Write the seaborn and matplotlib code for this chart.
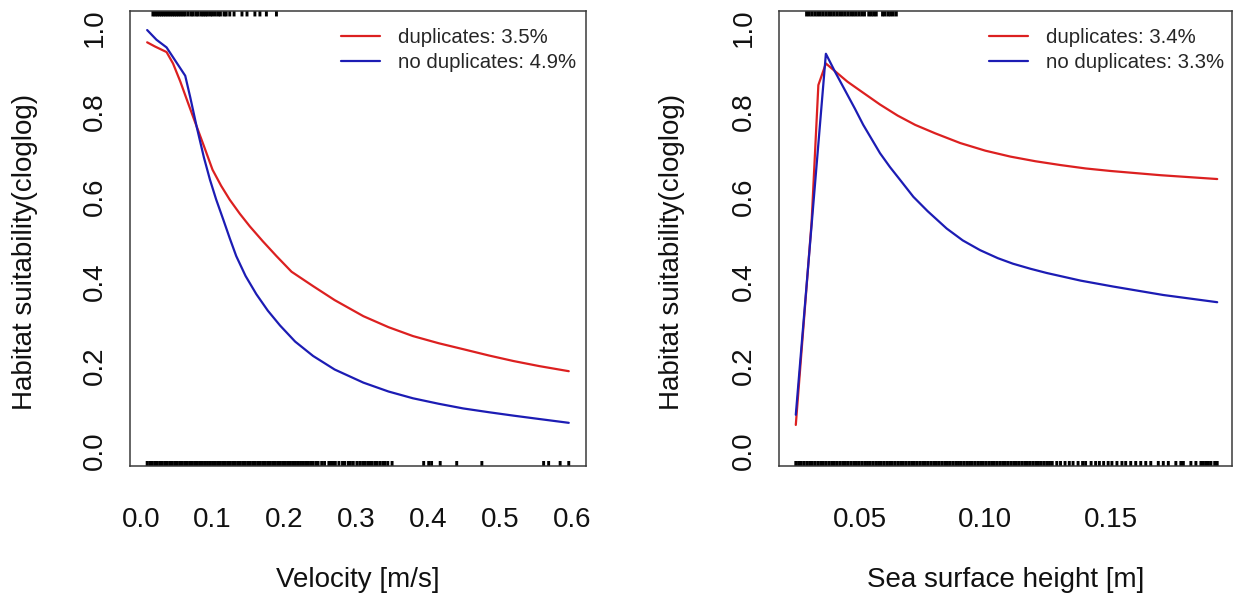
import matplotlib
matplotlib.use("Agg")
import matplotlib.pyplot as plt
import seaborn as sns
import pandas as pd

# ---- response curves: velocity ----
vel_dup_x = [0.009, 0.020, 0.036, 0.045, 0.055, 0.065, 0.076, 0.088, 0.100, 0.112,
             0.124, 0.138, 0.152, 0.170, 0.189, 0.210, 0.240, 0.270, 0.310, 0.345,
             0.379, 0.415, 0.449, 0.485, 0.519, 0.555, 0.596]
vel_dup_y = [0.965, 0.955, 0.942, 0.915, 0.873, 0.826, 0.775, 0.720, 0.664, 0.626,
             0.593, 0.560, 0.530, 0.495, 0.460, 0.423, 0.389, 0.356, 0.318, 0.292,
             0.271, 0.254, 0.240, 0.225, 0.212, 0.200, 0.188]
vel_nodup_x = [0.009, 0.022, 0.036, 0.062, 0.069, 0.078, 0.088, 0.0965, 0.105, 0.115,
               0.124, 0.133, 0.146, 0.161, 0.177, 0.194, 0.215, 0.240, 0.270, 0.310,
               0.345, 0.379, 0.415, 0.449, 0.485, 0.519, 0.555, 0.596]
vel_nodup_y = [0.994, 0.971, 0.953, 0.886, 0.835, 0.765, 0.693, 0.640, 0.594, 0.546,
               0.502, 0.460, 0.413, 0.370, 0.331, 0.296, 0.258, 0.224, 0.192, 0.161,
               0.140, 0.124, 0.111, 0.100, 0.091, 0.083, 0.075, 0.066]

# ---- response curves: sea surface height ----
ssh_dup_x = [0.0244, 0.0307, 0.0334, 0.0364, 0.040, 0.045, 0.051, 0.058, 0.065,
             0.072, 0.080, 0.090, 0.100, 0.110, 0.120, 0.130, 0.140, 0.150, 0.160,
             0.170, 0.180, 0.1925]
ssh_dup_y = [0.061, 0.540, 0.864, 0.915, 0.897, 0.872, 0.847, 0.818, 0.792,
             0.770, 0.750, 0.727, 0.709, 0.695, 0.684, 0.675, 0.667, 0.661, 0.656,
             0.651, 0.647, 0.642]
ssh_nodup_x = [0.0244, 0.0307, 0.0364, 0.040, 0.044, 0.048, 0.0513, 0.055, 0.058,
               0.062, 0.066, 0.0713, 0.077, 0.0846, 0.091, 0.0979, 0.105, 0.111,
               0.118, 0.1245, 0.138, 0.151, 0.171, 0.1925]
ssh_nodup_y = [0.085, 0.533, 0.938, 0.896, 0.852, 0.808, 0.770, 0.733, 0.703,
               0.670, 0.640, 0.600, 0.566, 0.525, 0.497, 0.474, 0.455, 0.442,
               0.430, 0.420, 0.402, 0.388, 0.368, 0.351]

# ---- occurrence (top) and background (bottom) rugs ----
vel_presence = [0.017, 0.020, 0.023, 0.026, 0.029, 0.032, 0.035, 0.038, 0.041, 0.044,
                0.047, 0.050, 0.053, 0.056, 0.059, 0.062, 0.066, 0.070, 0.073, 0.077,
                0.080, 0.084, 0.087, 0.090, 0.093, 0.097, 0.100, 0.104, 0.108, 0.111,
                0.116, 0.119, 0.124, 0.130, 0.141, 0.148, 0.159, 0.166, 0.175, 0.189]
vel_background = [0.009, 0.0125, 0.016, 0.0195, 0.023, 0.0265, 0.030, 0.0335, 0.037,
                  0.0405, 0.044, 0.0475, 0.051, 0.0545, 0.058, 0.0615, 0.065, 0.0685,
                  0.072, 0.0755, 0.079, 0.0825, 0.086, 0.0895, 0.093, 0.0965, 0.100,
                  0.1035, 0.107, 0.1105, 0.114, 0.1175, 0.121, 0.1245, 0.128, 0.1315,
                  0.135, 0.1385, 0.142, 0.1455, 0.149, 0.1525, 0.156, 0.1595, 0.163,
                  0.1665, 0.170, 0.1735, 0.177, 0.1805, 0.184, 0.1875, 0.191, 0.1945,
                  0.198, 0.2015, 0.205, 0.2085, 0.212, 0.2155, 0.219, 0.2225, 0.226,
                  0.2295, 0.233, 0.2365,
                  0.240, 0.244, 0.247, 0.252, 0.256, 0.262, 0.265, 0.268, 0.271, 0.276,
                  0.281, 0.284, 0.289, 0.292, 0.296, 0.301, 0.305, 0.309, 0.312, 0.316,
                  0.319, 0.322, 0.326, 0.329, 0.333, 0.337, 0.340, 0.344, 0.350,
                  0.394, 0.401, 0.405, 0.417, 0.440, 0.475, 0.561, 0.568, 0.584, 0.596]
ssh_presence = [0.0287, 0.0298, 0.0309, 0.0320, 0.0331, 0.0342, 0.0353, 0.0364, 0.0375,
                0.0386, 0.0397, 0.0408, 0.0419, 0.0430, 0.0441, 0.0452, 0.0463, 0.0474,
                0.0485, 0.0496, 0.0507, 0.0518, 0.0535, 0.0545, 0.0555, 0.0565, 0.0590,
                0.0600, 0.0612, 0.0622, 0.0633, 0.0645]
ssh_background = [0.0244, 0.0255, 0.0266, 0.0277, 0.0288, 0.0299, 0.0310, 0.0321, 0.0332,
                  0.0343, 0.0354, 0.0365, 0.0376, 0.0387, 0.0398, 0.0409, 0.0420, 0.0431,
                  0.0442, 0.0453, 0.0464, 0.0475, 0.0486, 0.0497, 0.0508, 0.0519, 0.0530,
                  0.0541, 0.0552, 0.0563, 0.0574, 0.0585, 0.0596, 0.0607, 0.0618, 0.0629,
                  0.0640, 0.0651, 0.0662, 0.0673, 0.0684, 0.0695, 0.0706, 0.0717, 0.0728,
                  0.0739, 0.0750, 0.0761, 0.0772, 0.0783, 0.0794, 0.0805, 0.0816, 0.0827,
                  0.0838, 0.0849, 0.0860, 0.0871, 0.0882, 0.0893, 0.0904, 0.0915, 0.0926,
                  0.0937, 0.0948, 0.0959, 0.0970, 0.0981, 0.0992, 0.1003, 0.1014, 0.1025,
                  0.1036, 0.1047, 0.1058, 0.1069, 0.1080, 0.1091, 0.1102, 0.1113, 0.1124,
                  0.1135, 0.1146, 0.1157, 0.1168, 0.1179, 0.1190, 0.1201, 0.1212, 0.1223,
                  0.1234, 0.1245, 0.1256, 0.1267,
                  0.1285, 0.1300, 0.1318, 0.1335, 0.1350, 0.1370, 0.1388, 0.1400, 0.1422,
                  0.1440, 0.1455, 0.1472, 0.1490, 0.1505,
                  0.1525, 0.1545, 0.1560, 0.1580, 0.1600, 0.1620, 0.1640, 0.1660, 0.1690,
                  0.1710, 0.1730, 0.1760, 0.1780, 0.1790, 0.1820, 0.1840, 0.1860, 0.1870,
                  0.1880, 0.1890, 0.1900, 0.1915, 0.1925]

label_dup = ["duplicates: 3.5%", "duplicates: 3.4%"]
label_nodup = ["no duplicates: 4.9%", "no duplicates: 3.3%"]
x_titles = ["Velocity [m/s]", "Sea surface height [m]"]
y_title = "Habitat suitability(cloglog)"
x_ticks = [[0.0, 0.1, 0.2, 0.3, 0.4, 0.5, 0.6], [0.05, 0.10, 0.15]]
x_ticklabels = [["0.0", "0.1", "0.2", "0.3", "0.4", "0.5", "0.6"], ["0.05", "0.10", "0.15"]]
y_ticks = [0.0, 0.2, 0.4, 0.6, 0.8, 1.0]
y_ticklabels = ["0.0", "0.2", "0.4", "0.6", "0.8", "1.0"]

sns.set_style("white")
plt.rcParams["font.family"] = ["Liberation Sans", "DejaVu Sans"]

RED = "#dc2020"
BLUE = "#1c1cb4"
FRAME = "#3a3a3a"
RUG_LW = 2.1

fig = plt.figure(figsize=(12.34, 5.95), dpi=100)
W, H = 1234, 595
ax_left = fig.add_axes([130 / W, (H - 466) / H, 456 / W, 455 / H])
ax_right = fig.add_axes([779 / W, (H - 466) / H, 453 / W, 455 / H])

panels = [
    (ax_left, vel_dup_x, vel_dup_y, vel_nodup_x, vel_nodup_y, vel_presence, vel_background,
     (-0.0149, 0.6200)),
    (ax_right, ssh_dup_x, ssh_dup_y, ssh_nodup_x, ssh_nodup_y, ssh_presence, ssh_background,
     (0.0177, 0.1984)),
]

for i, (ax, dx, dy, nx, ny, pres, back, xlim) in enumerate(panels):
    df = pd.concat([
        pd.DataFrame({"x": dx, "y": dy, "model": label_dup[i]}),
        pd.DataFrame({"x": nx, "y": ny, "model": label_nodup[i]}),
    ])
    sns.lineplot(data=df, x="x", y="y", hue="model",
                 palette={label_dup[i]: RED, label_nodup[i]: BLUE},
                 linewidth=1.6, ax=ax, legend=True)

    # background points along the bottom, presences along the top
    sns.rugplot(x=back, height=0.011, color="black", linewidth=RUG_LW, snap=False, ax=ax)
    ax.vlines(pres, 1 - 0.012, 1, transform=ax.get_xaxis_transform(),
              color="black", linewidth=RUG_LW, snap=False)

    ax.set_xlim(*xlim)
    ax.set_ylim(-0.036, 1.039)
    ax.set_xticks(x_ticks[i])
    ax.set_xticklabels(x_ticklabels[i])
    ax.set_yticks(y_ticks)
    ax.set_yticklabels(y_ticklabels, rotation=90, va="center")

    ax.tick_params(axis="both", direction="out", length=10.8, width=1.0,
                   color=FRAME, labelsize=20, labelcolor="#111111")
    ax.tick_params(axis="x", pad=19)
    ax.tick_params(axis="y", pad=5)
    for sp in ax.spines.values():
        sp.set_color(FRAME)
        sp.set_linewidth(1.1)

    ax.set_xlabel(x_titles[i], fontsize=20, color="#111111")
    ax.set_ylabel(y_title, fontsize=20, color="#111111")
    ax.xaxis.label.set_va("center")
    ax.xaxis.set_label_coords(0.5, -0.25)
    ax.yaxis.label.set_va("center")
    ax.yaxis.set_label_coords(-0.230 if i == 0 else -0.236, 0.47)

    ax.legend(loc="upper left", bbox_to_anchor=(0.463, 0.962), frameon=False,
              fontsize=14.7, handlelength=1.9, handletextpad=0.9,
              labelspacing=0.3, borderpad=0, borderaxespad=0)

fig.savefig("out.png", dpi=100, facecolor="white")
